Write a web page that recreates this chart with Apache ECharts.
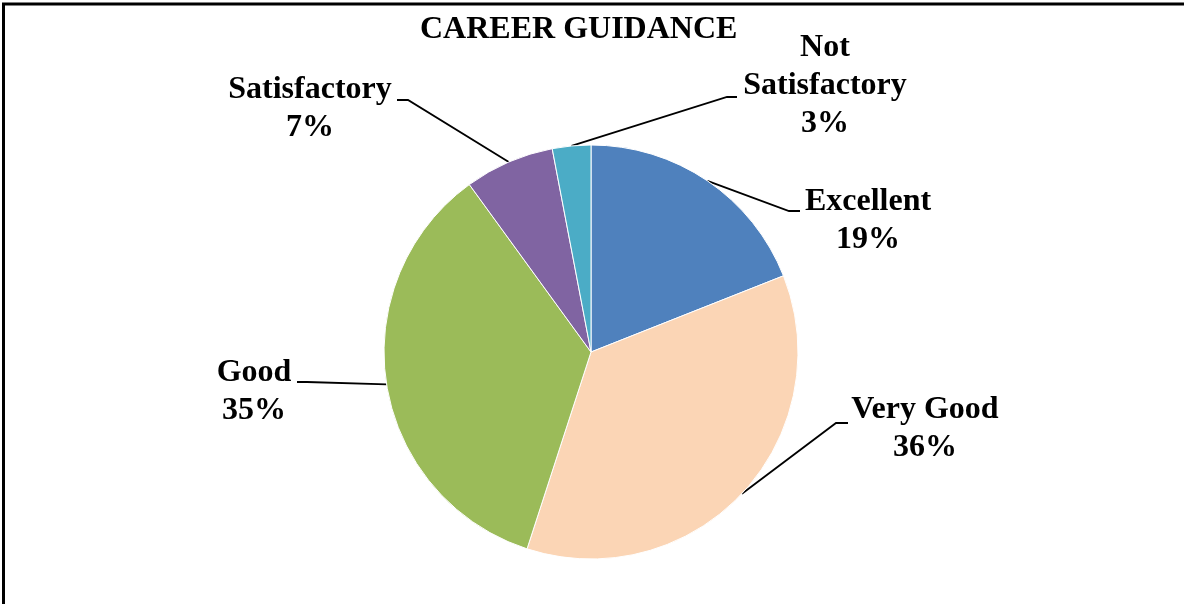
<!DOCTYPE html>
<html>
<head>
<meta charset="utf-8">
<script src="https://cdn.jsdelivr.net/npm/echarts@6/dist/echarts.min.js"></script>
<style>
html,body{margin:0;padding:0;background:#fff;}
#chart{width:1184px;height:604px;}
</style>
</head>
<body>
<div id="chart"></div>
<script>
// ---- data ----
var chartTitle = 'CAREER GUIDANCE';
var categories = ['Excellent', 'Very Good', 'Good', 'Satisfactory', 'Not Satisfactory'];
var values = [19, 36, 35, 7, 3];
var colors = ['#4F81BD', '#FBD5B5', '#9BBB59', '#8064A2', '#4BACC6'];

// ---- layout (label placement, not data) ----
var pieCenter = [591, 352];
var pieRadius = 207;
var labelPos = [
  { x: 868, y: 221, elbow: [789, 211], end: [800, 211], attach: 0.5 },
  { x: 925, y: 429, elbow: [836, 423], end: [848, 423], attach: 0.5 },
  { x: 254, y: 392, elbow: [307, 382], end: [297, 382], attach: 0.5 },
  { x: 310, y: 109, elbow: [408, 100], end: [397, 100], attach: 0.5 },
  { x: 825, y: 86,  elbow: [727, 97],  end: [737, 97],  attach: 0.5 }
];
var FONT = '"Liberation Serif", "Times New Roman", serif';

var total = values.reduce(function (a, b) { return a + b; }, 0);
function edgePoint(i, frac) {
  var before = 0;
  for (var k = 0; k < i; k++) before += values[k];
  var a = (before + values[i] * frac) / total * 2 * Math.PI;
  return [pieCenter[0] + pieRadius * Math.sin(a), pieCenter[1] - pieRadius * Math.cos(a)];
}

var chart = echarts.init(document.getElementById('chart'));
chart.setOption({
  backgroundColor: '#fff',
  animation: false,
  title: {
    text: chartTitle,
    left: 415,
    top: 9,
    textStyle: { fontFamily: FONT, fontWeight: 'bold', fontSize: 32, color: '#000' }
  },
  graphic: [
    { type: 'line', shape: { x1: 2, y1: 4, x2: 1184, y2: 4 }, style: { stroke: '#000', lineWidth: 3 } },
    { type: 'line', shape: { x1: 3.5, y1: 3, x2: 3.5, y2: 604 }, style: { stroke: '#000', lineWidth: 3 } }
  ],
  series: [{
    type: 'pie',
    center: pieCenter,
    radius: pieRadius,
    startAngle: 90,
    clockwise: true,
    avoidLabelOverlap: false,
    itemStyle: { borderColor: '#fff', borderWidth: 1 },
    label: {
      show: true,
      fontFamily: FONT,
      fontWeight: 'bold',
      fontSize: 32,
      lineHeight: 38,
      color: '#000',
      align: 'center',
      formatter: function (p) {
        var name = p.name.length > 12 ? p.name.replace(' ', '\n') : p.name;
        return name + '\n' + Math.round(p.percent) + '%';
      }
    },
    labelLine: { show: true, length: 10, length2: 10, lineStyle: { color: '#000', width: 1.8 } },
    labelLayout: function (p) {
      var L = labelPos[p.dataIndex];
      return {
        x: L.x, y: L.y, align: 'center', verticalAlign: 'middle',
        labelLinePoints: [edgePoint(p.dataIndex, L.attach), L.elbow, L.end]
      };
    },
    data: categories.map(function (c, i) {
      return { name: c, value: values[i], itemStyle: { color: colors[i] } };
    })
  }]
});
</script>
</body>
</html>
